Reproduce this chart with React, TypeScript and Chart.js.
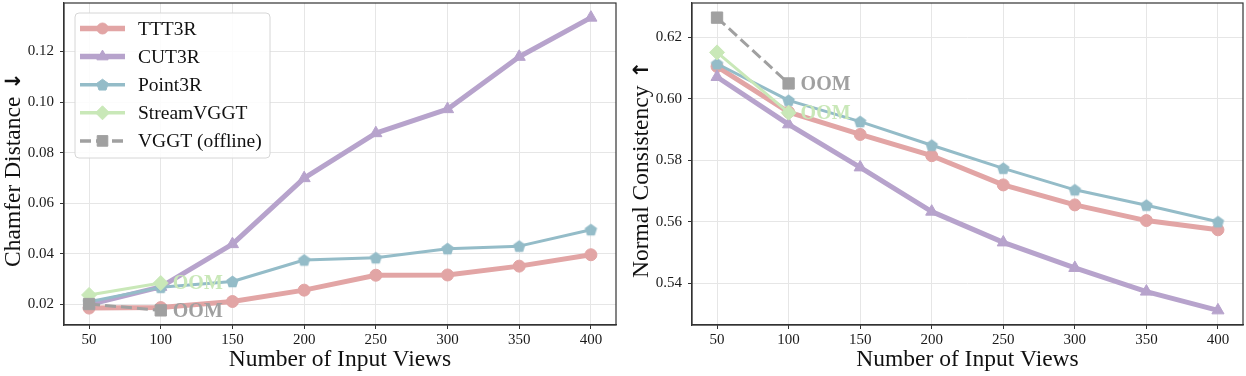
import React, { useEffect, useRef } from 'react';
import { Chart, registerables } from 'chart.js';
Chart.register(...registerables);

// ---------- data ----------
const views = [50, 100, 150, 200, 250, 300, 350, 400];
const viewsOOM = [50, 100];
const xTickValues = [50, 100, 150, 200, 250, 300, 350, 400];
const cdTickValues = [0.02, 0.04, 0.06, 0.08, 0.1, 0.12];
const ncTickValues = [0.54, 0.56, 0.58, 0.6, 0.62];

const seriesNames = ['TTT3R', 'CUT3R', 'Point3R', 'StreamVGGT', 'VGGT (offline)'];

// Chamfer Distance (lower is better)
const cdTTT3R = [0.0185, 0.0187, 0.0211, 0.0256, 0.0315, 0.0316, 0.0351, 0.0396];
const cdCUT3R = [0.0199, 0.0269, 0.0438, 0.0699, 0.0877, 0.0972, 0.1179, 0.1334];
const cdPoint3R = [0.021, 0.0267, 0.029, 0.0375, 0.0384, 0.042, 0.043, 0.0495];
const cdStreamVGGT = [0.0237, 0.0284];
const cdVGGT = [0.0201, 0.0176];

// Normal Consistency (higher is better)
const ncTTT3R = [0.6105, 0.5957, 0.5884, 0.5815, 0.572, 0.5655, 0.5604, 0.5574];
const ncCUT3R = [0.6071, 0.5917, 0.5777, 0.5633, 0.5533, 0.545, 0.5373, 0.5312];
const ncPoint3R = [0.6114, 0.5995, 0.5926, 0.5849, 0.5774, 0.5704, 0.5654, 0.56];
const ncStreamVGGT = [0.6151, 0.5955];
const ncVGGT = [0.6264, 0.605];

const oomLabel = 'OOM';
const xTitle = 'Number of Input Views';
const cdTitle = 'Chamfer Distance';
const ncTitle = 'Normal Consistency';
const cdArrow = '\u2193';
const ncArrow = '\u2191';

// ---------- styles ----------
const FONT = "'Liberation Serif', 'Times New Roman', 'DejaVu Serif', serif";
const COLORS = ['rgb(226,165,165)', 'rgb(183,163,204)', 'rgb(148,188,200)', 'rgb(201,232,184)', 'rgb(160,160,160)'];
const LINE_W = [5, 5, 3, 3, 3];
const MARKERS = ['circle', 'triangle', 'pentagon', 'rectRot', 'rect'];
const RADII = [6, 7, 6.5, 7.5, 8];
const DASHES: (number[] | undefined)[] = [undefined, undefined, undefined, undefined, [11, 5]];
const ORDERS = [5, 4, 3, 2, 1];

function pentagonPath(ctx: CanvasRenderingContext2D, cx: number, cy: number, r: number) {
  ctx.beginPath();
  for (let i = 0; i < 5; i++) {
    const a = -Math.PI / 2 + (i * 2 * Math.PI) / 5;
    const px = cx + r * Math.cos(a);
    const py = cy + r * Math.sin(a);
    if (i === 0) ctx.moveTo(px, py);
    else ctx.lineTo(px, py);
  }
  ctx.closePath();
}

function makePentagon(r: number, color: string) {
  const size = Math.ceil(r * 2 + 2);
  const c = document.createElement('canvas');
  c.width = size;
  c.height = size;
  const ctx = c.getContext('2d')!;
  pentagonPath(ctx, size / 2, size / 2 + 0.5, r);
  ctx.fillStyle = color;
  ctx.fill();
  return c;
}

function drawMarker(ctx: CanvasRenderingContext2D, kind: string, x: number, y: number, r: number, color: string) {
  ctx.save();
  ctx.fillStyle = color;
  ctx.strokeStyle = color;
  ctx.lineWidth = 1;
  ctx.setLineDash([]);
  if (kind === 'pentagon') {
    pentagonPath(ctx, x, y + 0.5, r);
  } else {
    ctx.beginPath();
    if (kind === 'circle') {
      ctx.arc(x, y, r, 0, Math.PI * 2);
    } else if (kind === 'triangle') {
      for (let i = 0; i < 3; i++) {
        const a = (i * 2 * Math.PI) / 3;
        const px = x + Math.sin(a) * r;
        const py = y - Math.cos(a) * r;
        if (i === 0) ctx.moveTo(px, py);
        else ctx.lineTo(px, py);
      }
    } else if (kind === 'rectRot') {
      ctx.moveTo(x - r, y);
      ctx.lineTo(x, y - r);
      ctx.lineTo(x + r, y);
      ctx.lineTo(x, y + r);
    } else if (kind === 'rect') {
      const s = r * Math.SQRT1_2;
      ctx.rect(x - s, y - s, 2 * s, 2 * s);
    }
    ctx.closePath();
  }
  ctx.fill();
  ctx.stroke();
  ctx.restore();
}

type PanelSpec = {
  values: number[][];
  yTicks: number[];
  yTitle: string;
  yArrow: string;
  legend: boolean;
  width: number;
  padRight: number;
};

function buildConfig(spec: PanelSpec): any {
  const xsFor = (i: number) => (i >= 3 ? viewsOOM : views);
  const all = spec.values.flat();
  const yMinD = Math.min(...all);
  const yMaxD = Math.max(...all);
  const yr = yMaxD - yMinD;
  const xr = views[views.length - 1] - views[0];

  const datasets = spec.values.map((vals, i) => {
    const ps = MARKERS[i] === 'pentagon' ? makePentagon(RADII[i], COLORS[i]) : MARKERS[i];
    return {
      label: seriesNames[i],
      data: vals.map((v, k) => ({ x: xsFor(i)[k], y: v })),
      borderColor: COLORS[i],
      backgroundColor: COLORS[i],
      borderWidth: LINE_W[i],
      borderDash: DASHES[i] || [],
      borderJoinStyle: 'round',
      pointStyle: ps,
      pointRadius: RADII[i],
      pointHoverRadius: RADII[i],
      pointBorderWidth: 1,
      pointBackgroundColor: COLORS[i],
      pointBorderColor: COLORS[i],
      order: ORDERS[i],
      tension: 0,
      fill: false,
    };
  });

  const overlay = {
    id: 'overlay',
    afterDraw(chart: any) {
      const { ctx, chartArea: a, scales } = chart;
      ctx.save();
      // spines
      ctx.strokeStyle = '#333';
      ctx.lineWidth = 1.2;
      ctx.setLineDash([]);
      ctx.strokeRect(a.left, a.top, a.right - a.left, a.bottom - a.top);

      // y-axis title with arrow
      ctx.save();
      const mainFont = `23.5px ${FONT}`;
      const arrowFont = `bold 21px 'DejaVu Sans', sans-serif`;
      ctx.font = mainFont;
      const w1 = ctx.measureText(spec.yTitle).width;
      ctx.font = arrowFont;
      const w2 = ctx.measureText(spec.yArrow).width;
      const gap = 7;
      const total = w1 + gap + w2;
      ctx.translate(scales.y.left + 20, (a.top + a.bottom) / 2 + 5.5);
      ctx.rotate(-Math.PI / 2);
      ctx.textAlign = 'left';
      ctx.textBaseline = 'alphabetic';
      ctx.fillStyle = '#111';
      ctx.font = mainFont;
      ctx.fillText(spec.yTitle, -total / 2, 0);
      ctx.font = arrowFont;
      ctx.fillText(spec.yArrow, -total / 2 + w1 + gap, 0);
      ctx.restore();

      // OOM annotations after last point of OOM series
      [3, 4].forEach((i) => {
        const vals = spec.values[i];
        const xs = xsFor(i);
        const px = scales.x.getPixelForValue(xs[xs.length - 1]);
        const py = scales.y.getPixelForValue(vals[vals.length - 1]);
        ctx.font = `bold 20px ${FONT}`;
        ctx.fillStyle = COLORS[i];
        ctx.textAlign = 'left';
        ctx.textBaseline = 'middle';
        ctx.fillText(oomLabel, px + 12, py + 1);
      });

      // legend
      if (spec.legend) {
        const bx = a.left + 11;
        const by = a.top + 10;
        const bw = 195;
        const bh = 145;
        ctx.beginPath();
        ctx.roundRect(bx, by, bw, bh, 4);
        ctx.fillStyle = 'rgba(255,255,255,0.85)';
        ctx.fill();
        ctx.strokeStyle = '#d6d6d6';
        ctx.lineWidth = 1;
        ctx.stroke();
        seriesNames.forEach((name, i) => {
          const cy = by + 15.5 + i * 28.1;
          ctx.save();
          ctx.strokeStyle = COLORS[i];
          ctx.lineWidth = LINE_W[i] + 0.5;
          ctx.setLineDash(DASHES[i] || []);
          ctx.beginPath();
          ctx.moveTo(bx + 5, cy);
          ctx.lineTo(bx + 50, cy);
          ctx.stroke();
          ctx.restore();
          drawMarker(ctx, MARKERS[i], bx + 27.5, cy, RADII[i] - 0.5, COLORS[i]);
          ctx.font = `19.5px ${FONT}`;
          ctx.fillStyle = '#111';
          ctx.textAlign = 'left';
          ctx.textBaseline = 'middle';
          ctx.fillText(name, bx + 63, cy + 1);
        });
      }
      ctx.restore();
    },
  };

  const tickFont = { family: FONT, size: 15 };
  const titleFont = { family: FONT, size: 23.5, lineHeight: 1.0 };

  return {
    type: 'line',
    data: { datasets },
    options: {
      animation: false,
      responsive: false,
      events: [],
      layout: { autoPadding: false, padding: { top: 3, right: spec.padRight, bottom: 4, left: 0 } },
      plugins: { legend: { display: false }, tooltip: { enabled: false } },
      scales: {
        x: {
          type: 'linear',
          min: views[0] - 0.05 * xr,
          max: views[views.length - 1] + 0.05 * xr,
          afterBuildTicks: (ax: any) => {
            ax.ticks = xTickValues.map((v) => ({ value: v }));
          },
          afterFit: (s: any) => {
            s.height = 47;
            s.paddingLeft = 0;
            s.paddingRight = 0;
          },
          ticks: {
            autoSkip: false,
            maxRotation: 0,
            minRotation: 0,
            padding: 2,
            color: '#1a1a1a',
            font: tickFont,
            callback: (v: any) => String(v),
          },
          grid: { color: '#e6e6e6', lineWidth: 1, tickColor: '#333', tickLength: 4, drawTicks: true },
          border: { display: true, color: '#333', width: 1.2 },
          title: { display: true, text: xTitle, color: '#111', font: titleFont, padding: { top: 0, bottom: 0 } },
        },
        y: {
          type: 'linear',
          min: yMinD - 0.05 * yr,
          max: yMaxD + 0.05 * yr,
          afterBuildTicks: (ax: any) => {
            ax.ticks = spec.yTicks.map((v) => ({ value: v }));
          },
          afterFit: (s: any) => {
            s.width = 64;
            s.paddingTop = 0;
            s.paddingBottom = 0;
          },
          ticks: {
            padding: 6,
            color: '#1a1a1a',
            font: tickFont,
            callback: (v: any) => Number(v).toFixed(2),
          },
          grid: { color: '#e6e6e6', lineWidth: 1, tickColor: '#333', tickLength: 4, drawTicks: true },
          border: { display: true, color: '#333', width: 1.2 },
          title: { display: false, text: spec.yTitle },
        },
      },
    },
    plugins: [overlay],
  };
}

function Panel({ spec, left }: { spec: PanelSpec; left: number }) {
  const ref = useRef<HTMLCanvasElement | null>(null);
  useEffect(() => {
    if (!ref.current) return;
    const chart = new Chart(ref.current, buildConfig(spec));
    return () => chart.destroy();
  }, [spec]);
  return (
    <div style={{ position: 'absolute', left, top: 0, width: spec.width, height: 376 }}>
      <canvas ref={ref} width={spec.width} height={376} style={{ display: 'block', width: spec.width, height: 376 }} />
    </div>
  );
}

const leftSpec: PanelSpec = {
  values: [cdTTT3R, cdCUT3R, cdPoint3R, cdStreamVGGT, cdVGGT],
  yTicks: cdTickValues,
  yTitle: cdTitle,
  yArrow: cdArrow,
  legend: true,
  width: 628,
  padRight: 12,
};

const rightSpec: PanelSpec = {
  values: [ncTTT3R, ncCUT3R, ncPoint3R, ncStreamVGGT, ncVGGT],
  yTicks: ncTickValues,
  yTitle: ncTitle,
  yArrow: ncArrow,
  legend: false,
  width: 618,
  padRight: 3,
};

export default function App() {
  return (
    <div style={{ position: 'absolute', left: 0, top: 0, width: 1246, height: 376, background: '#fff', overflow: 'hidden' }}>
      <Panel spec={leftSpec} left={0} />
      <Panel spec={rightSpec} left={628} />
    </div>
  );
}
